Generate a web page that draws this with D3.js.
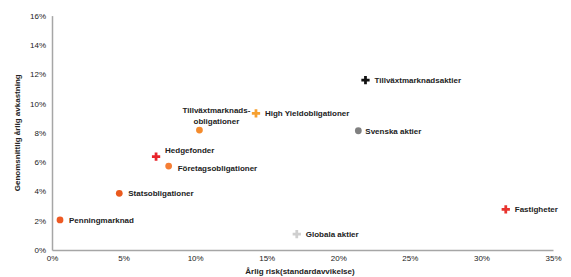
<!DOCTYPE html>
<html>
<head>
<meta charset="utf-8">
<script src="https://cdn.jsdelivr.net/npm/d3@7"></script>
<style>
  body { margin: 0; background: #fff; }
  svg text { font-family: "Liberation Sans Narrow", "Liberation Sans", sans-serif; fill: #222; }
</style>
</head>
<body>
<svg id="chart" width="571" height="277"></svg>
<script>
// Data (risk %, return %)
const names = ["Penningmarknad", "Statsobligationer", "Hedgefonder", "Företagsobligationer",
  "Tillväxtmarknads-obligationer", "High Yieldobligationer", "Tillväxtmarknadsaktier",
  "Svenska aktier", "Globala aktier", "Fastigheter"];
const risk = [0.56, 4.7, 7.27, 8.15, 10.3, 14.25, 21.9, 21.4, 17.1, 31.7];
const ret = [2.05, 3.87, 6.37, 5.73, 8.19, 9.33, 11.6, 8.14, 1.09, 2.78];
const colors = ["#ee5a24", "#ea5a1e", "#e8242a", "#f57e35", "#f48b2c", "#f6a030",
  "#111111", "#808080", "#cfcfcf", "#e8332e"];
const shapes = ["circle", "circle", "cross", "circle", "circle", "cross",
  "cross", "circle", "cross", "cross"];
const xTicks = [0, 5, 10, 15, 20, 25, 30, 35];
const yTicks = [0, 2, 4, 6, 8, 10, 12, 14, 16];

const svg = d3.select("#chart");
const x = d3.scaleLinear().domain([0, 35]).range([52, 553]);
const y = d3.scaleLinear().domain([0, 16]).range([250, 15.6]);

// axes
svg.append("g")
  .attr("transform", `translate(0,${y(0)})`)
  .call(d3.axisBottom(x).tickValues(xTicks).tickSize(0).tickPadding(5).tickFormat(d => d + "%"))
  .call(g => g.select(".domain").attr("stroke", "#a6a6a6").attr("stroke-width", 1.5))
  .call(g => g.selectAll("text").attr("font-size", 8).attr("font-family", null));

svg.append("g")
  .attr("transform", `translate(${x(0)},0)`)
  .call(d3.axisLeft(y).tickValues(yTicks).tickSize(0).tickPadding(6).tickFormat(d => d + "%"))
  .call(g => g.select(".domain").attr("stroke", "#a6a6a6").attr("stroke-width", 1.5))
  .call(g => g.selectAll("text").attr("font-size", 8).attr("font-family", null));

// axis titles
svg.append("text")
  .attr("x", 300).attr("y", 274)
  .attr("text-anchor", "middle")
  .attr("font-size", 8).attr("font-weight", "bold")
  .text("Årlig risk(standardavvikelse)");

svg.append("text")
  .attr("transform", `translate(20,${y(8)}) rotate(-90)`)
  .attr("text-anchor", "middle")
  .attr("font-size", 8).attr("font-weight", "bold")
  .text("Genomsnittlig årlig avkastning");

// points
const pts = names.map((n, i) => ({ name: n, x: risk[i], y: ret[i], color: colors[i], shape: shapes[i] }));

svg.append("g").selectAll("path")
  .data(pts)
  .join("path")
  .attr("transform", d => `translate(${x(d.x)},${y(d.y)})`)
  .attr("d", d => d3.symbol().type(d.shape === "cross" ? d3.symbolCross : d3.symbolCircle).size(d.shape === "cross" ? 38 : 36)())
  .attr("fill", d => d.color);

// labels
const lab = svg.append("g").attr("font-size", 8).attr("font-weight", "bold");
pts.forEach(d => {
  if (d.name === "Tillväxtmarknads-obligationer") {
    const t = lab.append("text").attr("text-anchor", "middle");
    t.append("tspan").attr("x", x(d.x) + 17).attr("y", y(d.y) - 17).text("Tillväxtmarknads-");
    t.append("tspan").attr("x", x(d.x) + 17).attr("y", y(d.y) - 6).text("obligationer");
    return;
  }
  let dx = 9, dy = 3;
  if (d.name === "Hedgefonder") dy = -4;
  if (d.name === "Företagsobligationer") dy = 5;
  if (d.name === "Svenska aktier") dx = 7;
  lab.append("text")
    .attr("x", x(d.x) + dx).attr("y", y(d.y) + dy)
    .text(d.name);
});
</script>
</body>
</html>
